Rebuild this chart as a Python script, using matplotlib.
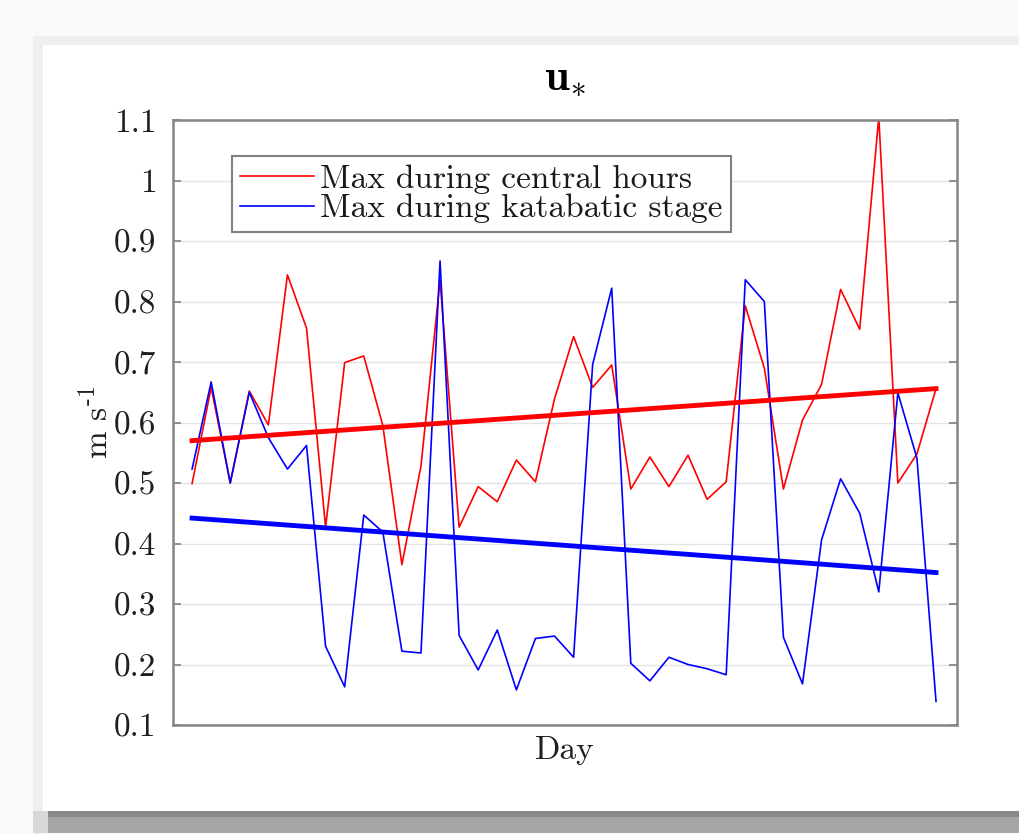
import matplotlib
matplotlib.use("Agg")
import matplotlib.pyplot as plt
from matplotlib.patches import Rectangle
import numpy as np

# ---- data ----
days = list(range(1, 41))
central = [0.499, 0.658, 0.500, 0.652, 0.596, 0.844, 0.756, 0.427, 0.699, 0.710,
           0.595, 0.365, 0.528, 0.835, 0.427, 0.494, 0.469, 0.538, 0.502, 0.639,
           0.742, 0.658, 0.695, 0.490, 0.543, 0.494, 0.546, 0.473, 0.502, 0.793,
           0.690, 0.490, 0.604, 0.663, 0.820, 0.754, 1.105, 0.500, 0.548, 0.656]
katabatic = [0.523, 0.667, 0.500, 0.650, 0.575, 0.523, 0.562, 0.230, 0.163, 0.447,
             0.419, 0.222, 0.219, 0.867, 0.248, 0.191, 0.257, 0.158, 0.243, 0.247,
             0.212, 0.696, 0.822, 0.202, 0.173, 0.212, 0.200, 0.193, 0.183, 0.836,
             0.800, 0.245, 0.168, 0.406, 0.507, 0.450, 0.320, 0.649, 0.541, 0.139]
trend_days = [1, 40]
central_trend = [0.570, 0.656]
katabatic_trend = [0.442, 0.352]
yticks = [0.1, 0.2, 0.3, 0.4, 0.5, 0.6, 0.7, 0.8, 0.9, 1.0, 1.1]
ytick_labels = ["0.1", "0.2", "0.3", "0.4", "0.5", "0.6", "0.7", "0.8", "0.9", "1", "1.1"]

plt.rcParams['font.family'] = ['cmr10', 'DejaVu Serif']
plt.rcParams['mathtext.fontset'] = 'cm'
plt.rcParams['axes.formatter.use_mathtext'] = True

W, H = 1020, 834
fig = plt.figure(figsize=(W / 100, H / 100), dpi=100)
fig.patch.set_facecolor('#fafafa')

def frect(x0, y0, x1, y1, color):
    # pixel coords (top-left origin) -> figure fraction
    fig.patches.append(Rectangle((x0 / W, 1 - y1 / H), (x1 - x0) / W, (y1 - y0) / H,
                                 transform=fig.transFigure, facecolor=color,
                                 edgecolor='none', zorder=-10))

frect(33, 36, W, 45, '#f0f0f0')
frect(33, 36, 43, 834, '#efefef')
frect(43, 45, W, 811, '#ffffff')
frect(48, 811, W, 817, '#8a8a8a')
frect(48, 817, W, 833, '#a6a6a6')
frect(33, 811, 48, 833, '#d8d8d8')

ax = fig.add_axes([173 / W, 1 - 725 / H, (957 - 173) / W, (725 - 120) / H])
ax.set_facecolor('white')

ax.plot(days, central, color='#ff0000', lw=1.2, label='Max during central hours')
ax.plot(days, katabatic, color='#0000ff', lw=1.2, label='Max during katabatic stage')
ax.plot(trend_days, central_trend, color='#ff0000', lw=3.5)
ax.plot(trend_days, katabatic_trend, color='#0000ff', lw=3.5)

ax.set_xlim(0, 41.1)
ax.set_ylim(0.1, 1.1)
ax.set_xticks([])
ax.set_yticks(yticks)
ax.set_yticklabels(ytick_labels)
ax.yaxis.grid(True, color='#e3e3e3', lw=1.0)
ax.set_axisbelow(True)
ax.tick_params(axis='y', direction='in', length=6, width=1.2, color='#808080',
               right=True, labelsize=24, labelcolor='#1f1f1f', pad=12)
for s in ax.spines.values():
    s.set_color('#858585')
    s.set_linewidth(1.8)

ax.set_title(r'$\mathbf{u}_{\mathbf{\ast}}$', fontsize=32, pad=22)
ax.set_xlabel('Day', fontsize=24, color='#1f1f1f', labelpad=8)
ax.set_ylabel(r'm s$^{\text{-1}}$', fontsize=24, color='#1f1f1f', labelpad=0)

leg = ax.legend(loc='upper left', bbox_to_anchor=((232 - 173) / 784, (725 - 156) / 605),
                fontsize=24, frameon=True, fancybox=False, framealpha=1,
                edgecolor='#808080', handlelength=2.2, handletextpad=0.2,
                borderpad=0.25, labelspacing=0.0, borderaxespad=0)
leg.get_frame().set_linewidth(1.5)
for t in leg.get_texts():
    t.set_color('#1a1a1a')

fig.savefig('out.png', dpi=100, facecolor=fig.get_facecolor())
